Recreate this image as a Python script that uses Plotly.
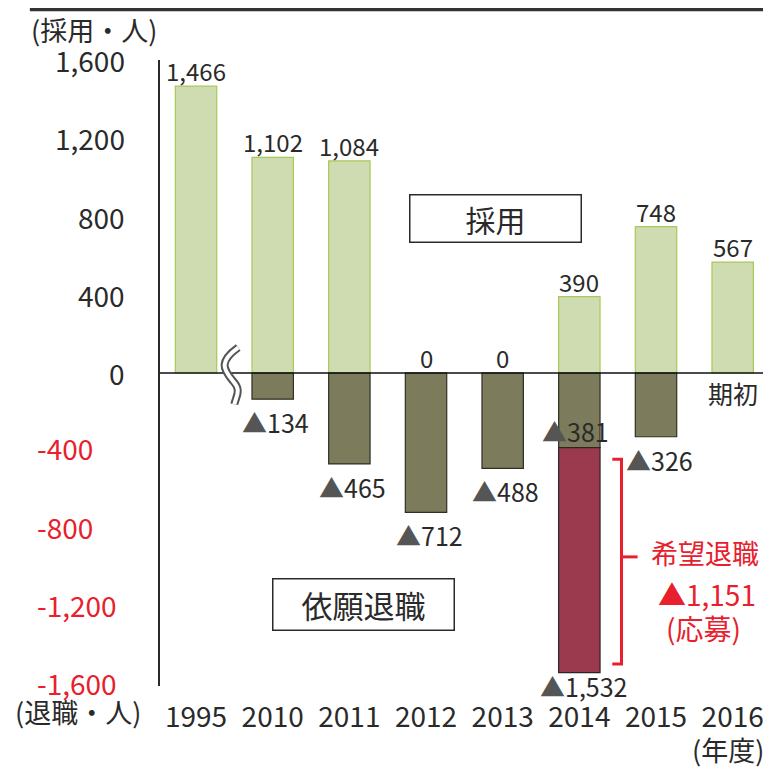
import plotly.graph_objects as go

years = ["1995", "2010", "2011", "2012", "2013", "2014", "2015", "2016"]
hires = [1466, 1102, 1084, 0, 0, 390, 748, 567]
resignations = [None, -134, -465, -712, -488, -381, -326, None]
voluntary_year = ["2014"]
voluntary = [-1151]
y_ticks = [1600, 1200, 800, 400, 0, -400, -800, -1200, -1600]

FONT = "Noto Sans CJK JP"
RED = "#e8202e"
INK = "#2a2a2a"

def fmt(v):
    return f"{abs(v):,}"

fig = go.Figure()
fig.add_trace(go.Bar(x=years, y=hires, marker=dict(color="#cfdcb2", line=dict(color="#a8c858", width=1.2)),
                     width=0.54, name="採用", hoverinfo="skip"))
fig.add_trace(go.Bar(x=years, y=resignations, marker=dict(color="#7c7b5b", line=dict(color="#2f2f25", width=1.2)),
                     width=0.54, name="依願退職", hoverinfo="skip"))
fig.add_trace(go.Bar(x=voluntary_year, y=voluntary, marker=dict(color="#9b3a4f", line=dict(color="#2f2225", width=1.2)),
                     width=0.54, name="希望退職", hoverinfo="skip"))

ann = []
def A(**kw):
    kw.setdefault("showarrow", False)
    kw.setdefault("xanchor", "center")
    kw.setdefault("yanchor", "middle")
    ann.append(kw)

# tick labels
for t in y_ticks:
    if t >= 0:
        A(xref="paper", yref="y", x=-0.054, y=t, text=f"{t:,}", xanchor="right",
          font=dict(family=FONT, size=28, color=INK))
    else:
        A(xref="paper", yref="y", x=-0.205, y=t, text=f"-{abs(t):,}", xanchor="left", yshift=3,
          font=dict(family=FONT, size=28, color=RED))

# hire labels
for i, v in enumerate(hires):
    A(x=i, y=v, text=fmt(v), yanchor="bottom", yshift=-4, font=dict(family=FONT, size=24, color=INK))

# resignation labels
total_2014 = resignations[5] + voluntary[0]
for i, v in enumerate(resignations):
    if v is None:
        continue
    txt = f"<span style='color:#555'>▲</span>{fmt(v)}"
    if years[i] == "2014":
        A(x=i - 0.05, y=v, text=txt, yanchor="bottom", yshift=-3, font=dict(family=FONT, size=25, color=INK))
        A(x=i + 0.06, y=total_2014, text=f"<span style='color:#555'>▲</span>{fmt(total_2014)}",
          yanchor="top", yshift=7, font=dict(family=FONT, size=25, color=INK))
    else:
        A(x=i + 0.04, y=v, text=txt, yanchor="top", yshift=-3, font=dict(family=FONT, size=25, color=INK))

A(x=7.0, y=-100, text="期初", font=dict(family=FONT, size=25, color=INK))

# boxes
A(x=3.91, y=792, text="採用", width=170, height=46, bordercolor=INK, borderwidth=1.5, borderpad=0,
  bgcolor="white", font=dict(family=FONT, size=30, color=INK))
A(x=2.18, y=-1185, text="依願退職", width=180, height=50, bordercolor=INK, borderwidth=1.5, borderpad=0,
  bgcolor="white", font=dict(family=FONT, size=31, color=INK))

# voluntary text
A(x=6.64, y=-920, text="希望退職", font=dict(family=FONT, size=27, color=RED))
A(x=6.66, y=-1130, text=f"▲{fmt(voluntary[0])}", font=dict(family=FONT, size=28, color=RED))
A(x=6.62, y=-1305, text="(応募)", font=dict(family=FONT, size=28, color=RED))

# axis titles
A(xref="paper", yref="paper", x=-0.108, y=1.049, text="(採用・人)", font=dict(family=FONT, size=27, color=INK))
A(xref="paper", yref="paper", x=-0.134, y=-0.040, text="(退職・人)", font=dict(family=FONT, size=27, color=INK))
A(xref="paper", yref="paper", x=0.868, y=-0.102, text="(年度)", xanchor="left", font=dict(family=FONT, size=27, color=INK))

wave = "M 0.55,130 C 0.3,60 0.35,20 0.48,-40 C 0.6,-90 0.52,-120 0.5,-160"
shapes = [
    dict(type="line", xref="paper", yref="y", x0=0, x1=1, y0=0, y1=0, line=dict(color="#111", width=1.5)),
    dict(type="rect", xref="paper", yref="paper", x0=-0.213, x1=1.02, y0=1.078, y1=1.09,
         fillcolor="#333", line=dict(width=0)),
    dict(type="path", xref="x", yref="y", path=wave, line=dict(color="#555", width=8)),
    dict(type="path", xref="x", yref="y", path=wave, line=dict(color="white", width=4)),
    dict(type="path", xref="x", yref="y",
         path=f"M 5.43,{resignations[5]-60} L 5.55,{resignations[5]-60} L 5.55,{total_2014+45} L 5.43,{total_2014+45}",
         line=dict(color=RED, width=3)),
    dict(type="line", xref="x", yref="y", x0=5.55, x1=5.76, y0=-940, y1=-940, line=dict(color=RED, width=3)),
]

fig.update_layout(
    width=771, height=769,
    margin=dict(l=152, r=8, t=52, b=91),
    paper_bgcolor="white", plot_bgcolor="white",
    barmode="relative", bargap=0.46,
    showlegend=False,
    annotations=ann, shapes=shapes,
    font=dict(family=FONT, color=INK),
)
fig.update_xaxes(type="category", range=[-0.47, 7.5], showgrid=False, zeroline=False, showline=False,
                 ticks="", tickfont=dict(family=FONT, size=28, color=INK), ticklabelstandoff=12)
fig.update_yaxes(range=[-1600, 1600], showgrid=False, zeroline=False, showline=True, linecolor=INK,
                 linewidth=1.5, showticklabels=False, ticks="")

fig.write_html("out.html")
